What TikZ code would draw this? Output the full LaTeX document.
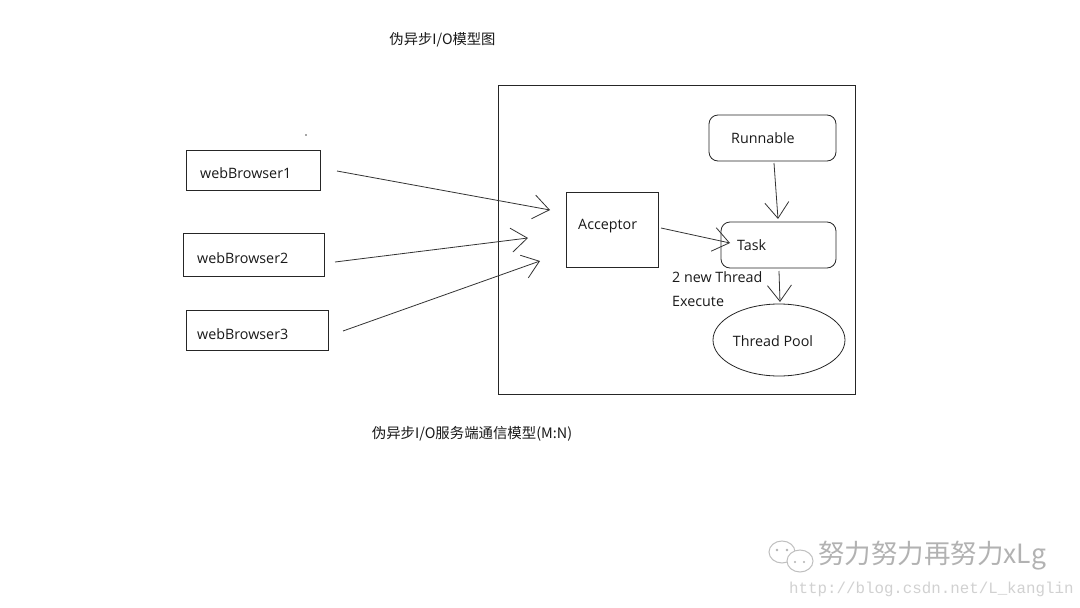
\documentclass[tikz,border=0pt]{standalone}
\usepackage{fontspec}
\setmainfont{Open Sans}
\newfontfamily\cjk{Noto Sans CJK SC}
\newfontfamily\wmono{Liberation Mono}
\usetikzlibrary{arrows.meta,shapes.geometric}
\tikzset{
  box/.style={draw=black!85, line width=0.8pt, rectangle, inner sep=0pt},
  rbox/.style={draw=black!85, line width=0.8pt, rectangle, rounded corners=9pt, inner sep=0pt},
  lbl/.style={font=\fontsize{14.3}{17}\selectfont, text=black!90, inner sep=0pt},
  conn/.style={draw=black!80, line width=0.8pt, -{Straight Barb[length=16pt,width=24pt,line width=0.8pt]}},
  wm/.style={text=black!30, inner sep=0pt}
}
\begin{document}
\begin{tikzpicture}[x=1pt,y=-1pt]
\useasboundingbox (0,0) rectangle (1080,608);
\fill[white] (0,0) rectangle (1080,608);

% titles
\node[lbl, font=\cjk\fontsize{14.3}{17}\selectfont] (title) at (442.5,40) {伪异步I/O模型图};
\node[lbl, font=\cjk\fontsize{14.4}{17}\selectfont] (caption) at (472,434) {伪异步I/O服务端通信模型(M:N)};

% big frame
\node[box, minimum width=357pt, minimum height=309pt] (frame) at (676.5,239.5) {};

% stray dot
\fill[black!70] (306,135) circle (0.8pt);

% browsers
\node[box, minimum width=134pt, minimum height=40pt] (wb1) at (253,170) {};
\node[lbl, anchor=west] (wb1t) at (200,173) {webBrowser1};
\node[box, minimum width=141pt, minimum height=43pt] (wb2) at (253.5,254.5) {};
\node[lbl, anchor=west] (wb2t) at (197,258) {webBrowser2};
\node[box, minimum width=142pt, minimum height=40pt] (wb3) at (257,330) {};
\node[lbl, anchor=west] (wb3t) at (197,334) {webBrowser3};

% acceptor
\node[box, minimum width=92pt, minimum height=75pt] (acc) at (612,229.5) {};
\node[lbl, anchor=west] (acct) at (578,226) {Acceptor};

% runnable / task
\node[rbox, minimum width=127pt, minimum height=46pt] (run) at (772.5,138) {};
\node[lbl, anchor=west] (runt) at (731,138) {Runnable};
\node[rbox, minimum width=115pt, minimum height=46pt] (task) at (778.5,245) {};
\node[lbl, anchor=west] (taskt) at (737,245) {Task};

% thread pool
\node[ellipse, draw=black!85, line width=0.8pt, minimum width=132pt, minimum height=72pt, inner sep=0pt] (pool) at (779,340) {};
\node[lbl] (poolt) at (773,341) {Thread Pool};

% labels
\node[lbl, anchor=west] (l1) at (672,277) {2 new Thread};
\node[lbl, anchor=west] (l2) at (672,301) {Execute};

% connector end points
\coordinate (e1s) at (337,171); \coordinate (e1t) at (550,210);
\coordinate (e2s) at (335,262); \coordinate (e2t) at (528,238);
\coordinate (e3s) at (343,331); \coordinate (e3t) at (540,261);
\coordinate (e4s) at (661,228); \coordinate (e4t) at (730,243);
\coordinate (e5s) at (774,163); \coordinate (e5t) at (778,219);
\coordinate (e6s) at (779,271); \coordinate (e6t) at (780,302);

\draw[conn] (e1s) -- (e1t);
\draw[conn] (e2s) -- (e2t);
\draw[conn] (e3s) -- (e3t);
\draw[conn] (e4s) -- (e4t);
\draw[conn] (e5s) -- (e5t);
\draw[conn] (e6s) -- (e6t);

% watermark
\begin{scope}[draw=black!25, line width=1pt]
  \draw (782,552) ellipse (13pt and 11pt);
  \fill[white] (800,561) ellipse (13pt and 11pt);
  \draw (800,561) ellipse (13pt and 11pt);
  \fill[black!30] (777,550) circle (1.3pt) (787,550) circle (1.3pt);
  \fill[black!30] (795,562) circle (1.2pt) (804,562) circle (1.2pt);
\end{scope}
\node[wm, anchor=west, font=\cjk\fontsize{26.5}{30}\selectfont] (wmt) at (818,556) {努力努力再努力xLg};
\node[wm, anchor=west, text=black!18, font=\wmono\fontsize{15.8}{18}\selectfont] (wmu) at (789,589) {http://blog.csdn.net/L\_kanglin};
\end{tikzpicture}
\end{document}
